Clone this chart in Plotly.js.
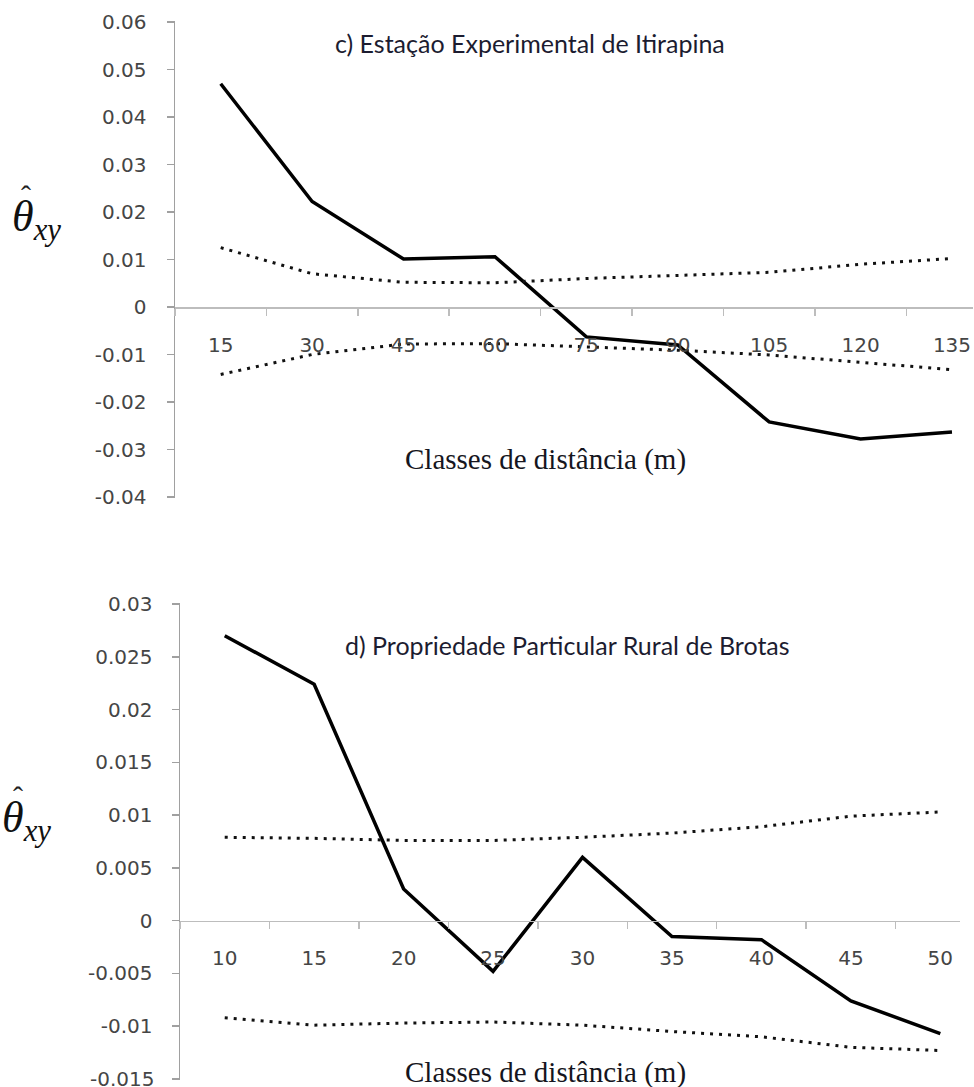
<!DOCTYPE html>
<html>
<head>
<meta charset="utf-8">
<script src="https://cdn.plot.ly/plotly-3.0.1.min.js"></script>
<style>html,body{margin:0;padding:0;background:#fff;}#chart{width:974px;height:1087px;}</style>
</head>
<body>
<div id="chart"></div>
<script>
// ---- Data: panel c (Estação Experimental de Itirapina)
var catsC = ['15','30','45','60','75','90','105','120','135'];
var thetaC = [0.047, 0.0222, 0.0101, 0.0106, -0.0063, -0.0080, -0.0242, -0.0278, -0.0263];
var upperC = [0.0125, 0.0070, 0.0052, 0.0051, 0.0060, 0.0066, 0.0073, 0.0090, 0.0102];
var lowerC = [-0.0142, -0.0100, -0.0078, -0.0077, -0.0084, -0.0091, -0.0101, -0.0117, -0.0132];
var yTickValsC = [0.06, 0.05, 0.04, 0.03, 0.02, 0.01, 0, -0.01, -0.02, -0.03, -0.04];
var yTickTextC = ['0.06','0.05','0.04','0.03','0.02','0.01','0','-0.01','-0.02','-0.03','-0.04'];

// ---- Data: panel d (Propriedade Particular Rural de Brotas)
var catsD = ['10','15','20','25','30','35','40','45','50'];
var thetaD = [0.0270, 0.0224, 0.0030, -0.0048, 0.0060, -0.0015, -0.0018, -0.0076, -0.0107];
var upperD = [0.0079, 0.0078, 0.0076, 0.0076, 0.0079, 0.0083, 0.0089, 0.0099, 0.0103];
var lowerD = [-0.0092, -0.0099, -0.0097, -0.0096, -0.0099, -0.0105, -0.0110, -0.0120, -0.0123];
var yTickValsD = [0.03, 0.025, 0.02, 0.015, 0.01, 0.005, 0, -0.005, -0.01, -0.015];
var yTickTextD = ['0.03','0.025','0.02','0.015','0.01','0.005','0','-0.005','-0.01','-0.015'];

var W = 974, H = 1087;
function fy(px){ return 1 - px / H; }
function fx(px){ return px / W; }

// pixel mapping: value vTop at pxTop, vBot at pxBot; range padded slightly so end ticks are kept
function makeY(vBot, vTop, pxBot, pxTop, pad){
  var k = (pxBot - pxTop) / (vTop - vBot);
  var r = [vBot - pad, vTop + pad];
  var dom = [fy(pxBot + pad * k), fy(pxTop - pad * k)];
  return {range:r, dom:dom};
}
var YC = makeY(-0.04, 0.06, 497, 22, 0.0002);
var YD = makeY(-0.015, 0.03, 1079, 604, 0.0001);
function zeroPos(Y){ return Y.dom[0] + (0 - Y.range[0]) / (Y.range[1] - Y.range[0]) * (Y.dom[1] - Y.dom[0]); }

// last bottom tick label sits on the page edge; drawn as annotation so it is not dropped
var lastD = yTickTextD.length - 1;
var yTickTextDAxis = yTickTextD.map(function(t, i){ return i === lastD ? '' : t; });

var solid = {color:'#000', width:3.5};
var dotted = {color:'#111', width:3, dash:'3px,6px'};

var traces = [
  {x:catsC, y:thetaC, type:'scatter', mode:'lines', line:solid, xaxis:'x', yaxis:'y', hoverinfo:'skip'},
  {x:catsC, y:upperC, type:'scatter', mode:'lines', line:dotted, xaxis:'x', yaxis:'y', hoverinfo:'skip'},
  {x:catsC, y:lowerC, type:'scatter', mode:'lines', line:dotted, xaxis:'x', yaxis:'y', hoverinfo:'skip'},
  {x:catsD, y:thetaD, type:'scatter', mode:'lines', line:solid, xaxis:'x2', yaxis:'y2', hoverinfo:'skip'},
  {x:catsD, y:upperD, type:'scatter', mode:'lines', line:dotted, xaxis:'x2', yaxis:'y2', hoverinfo:'skip'},
  {x:catsD, y:lowerD, type:'scatter', mode:'lines', line:dotted, xaxis:'x2', yaxis:'y2', hoverinfo:'skip'}
];

var tickFont = {family:'"DejaVu Sans", Verdana, sans-serif', size:20, color:'#454545'};

function xAxis(dom, pos, rightCat){
  return {
    type:'category', domain:dom, anchor:'free', position:pos,
    range:[-0.5, rightCat], showgrid:false, zeroline:false,
    showline:true, linecolor:'#bdbdbd', linewidth:1.5,
    ticks:'outside', tickson:'boundaries', ticklen:7, tickcolor:'#bdbdbd', tickwidth:1.5,
    tickfont:tickFont, ticklabelstandoff:19, fixedrange:true
  };
}
function yAxis(Y, xname, tv, tt, standoff){
  return {
    domain:Y.dom, range:Y.range, anchor:xname, showgrid:false, zeroline:false,
    showline:true, linecolor:'#a0a0a0', linewidth:1.5,
    ticks:'outside', ticklen:7, tickcolor:'#a0a0a0', tickwidth:1.5,
    tickvals:tv, ticktext:tt, tickfont:tickFont, ticklabelstandoff:standoff, fixedrange:true
  };
}

var xa = xAxis([fx(175), fx(973)], zeroPos(YC), 8.23);
var xa2 = xAxis([fx(180), fx(960)], zeroPos(YD), 8.22);

var titleFont = {family:'Lato, "Open Sans", sans-serif', size:25, color:'#1c1c30'};
var serifFont = {family:'"Liberation Serif", "DejaVu Serif", serif', size:29, color:'#151520'};
var thetaFont = {family:'"Liberation Serif", "DejaVu Serif", serif', size:44, color:'#111'};
var hatFont = {family:'"Liberation Serif", "DejaVu Serif", serif', size:30, color:'#222'};

var layout = {
  width:W, height:H, margin:{l:0, r:0, t:0, b:0},
  paper_bgcolor:'#fff', plot_bgcolor:'rgba(0,0,0,0)', showlegend:false,
  xaxis:xa, yaxis:yAxis(YC, 'x', yTickValsC, yTickTextC, 16),
  xaxis2:xa2, yaxis2:yAxis(YD, 'x2', yTickValsD, yTickTextDAxis, 15),
  annotations:[
    {text:'c) Estação Experimental de Itirapina', xref:'paper', yref:'paper', x:fx(530), y:fy(43), xanchor:'center', yanchor:'middle', showarrow:false, font:titleFont},
    {text:'d) Propriedade Particular Rural de Brotas', xref:'paper', yref:'paper', x:fx(567), y:fy(645), xanchor:'center', yanchor:'middle', showarrow:false, font:titleFont},
    {text:'Classes de distância (m)', xref:'paper', yref:'paper', x:fx(545), y:fy(460), xanchor:'center', yanchor:'middle', showarrow:false, font:serifFont},
    {text:'Classes de distância (m)', xref:'paper', yref:'paper', x:fx(545), y:fy(1072), xanchor:'center', yanchor:'middle', showarrow:false, font:serifFont},
    {text:yTickTextD[lastD], xref:'paper', yref:'y2', x:fx(156), y:yTickValsD[lastD], xanchor:'right', yanchor:'middle', showarrow:false, font:tickFont},
    {text:'<i>θ</i><sub><i>xy</i></sub>', xref:'paper', yref:'paper', x:fx(10), y:fy(220), xanchor:'left', yanchor:'middle', showarrow:false, font:thetaFont},
    {text:'ˆ', xref:'paper', yref:'paper', x:fx(26), y:fy(196), xanchor:'center', yanchor:'middle', showarrow:false, font:hatFont},
    {text:'<i>θ</i><sub><i>xy</i></sub>', xref:'paper', yref:'paper', x:0, y:fy(820), xanchor:'left', yanchor:'middle', showarrow:false, font:thetaFont},
    {text:'ˆ', xref:'paper', yref:'paper', x:fx(18), y:fy(796), xanchor:'center', yanchor:'middle', showarrow:false, font:hatFont}
  ]
};

Plotly.newPlot('chart', traces, layout, {displayModeBar:false, staticPlot:true});
</script>
</body>
</html>
